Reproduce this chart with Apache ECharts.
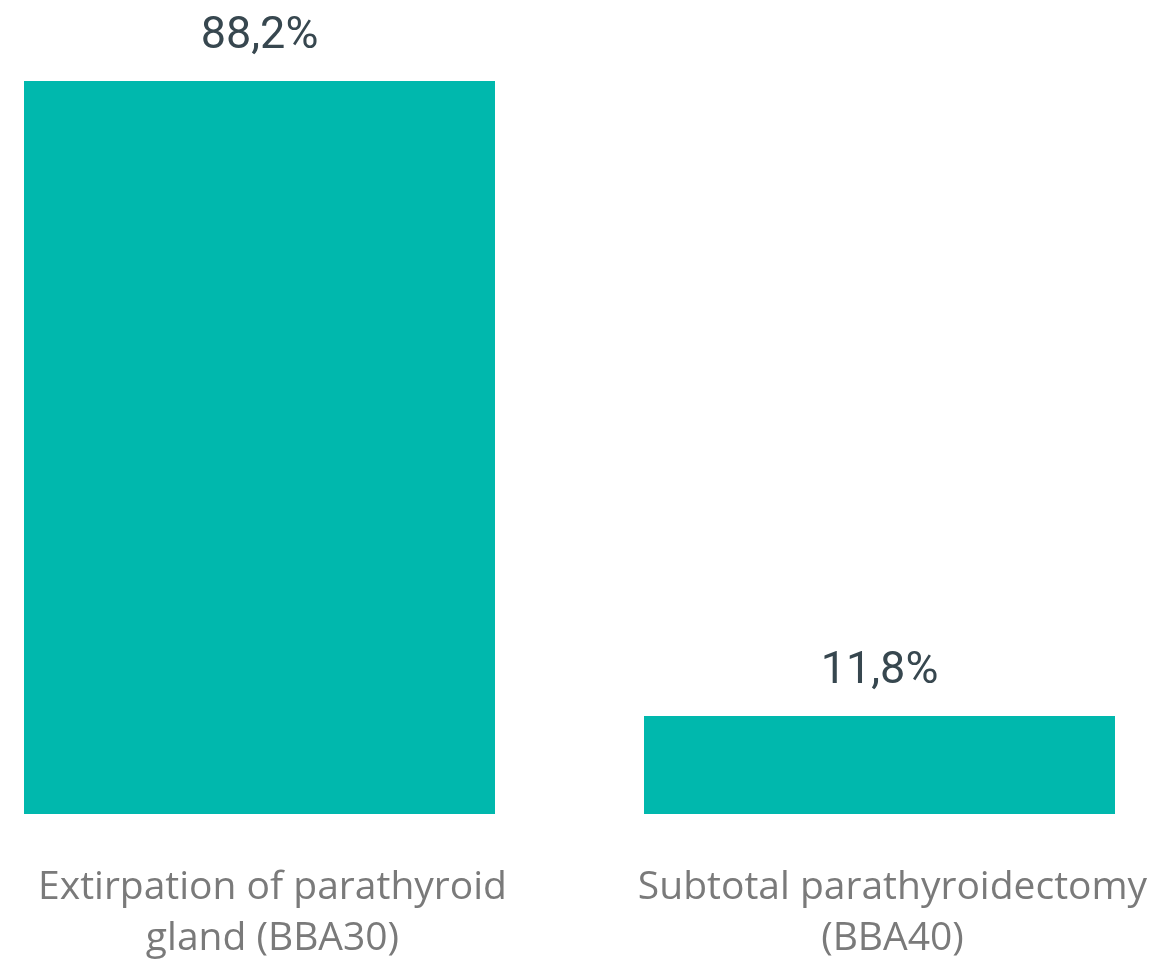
<!DOCTYPE html>
<html>
<head>
<meta charset="utf-8">
<script src="https://cdn.jsdelivr.net/npm/echarts@6/dist/echarts.min.js"></script>
<style>
html,body{margin:0;padding:0;background:#fff;}
#chart{width:1159px;height:971px;}
</style>
</head>
<body>
<div id="chart"></div>
<script>
const categories = ['Extirpation of parathyroid\ngland (BBA30)', 'Subtotal parathyroidectomy\n(BBA40)'];
const values = [88.2, 11.8];

const chart = echarts.init(document.getElementById('chart'), null, {renderer: 'canvas'});
chart.setOption({
  animation: false,
  grid: {left: 259.5, right: 279.5, top: 81, bottom: 157, containLabel: false},
  xAxis: {
    type: 'category',
    data: categories,
    boundaryGap: false,
    axisLine: {show: false},
    axisTick: {show: false},
    splitLine: {show: false},
    axisLabel: {
      interval: 0,
      color: '#7a7a7a',
      fontFamily: 'Open Sans',
      fontSize: 39,
      lineHeight: 51,
      margin: 48,
      padding: [0, 0, 0, 26]
    }
  },
  yAxis: {
    type: 'value',
    min: 0,
    max: 88.2,
    show: false,
    splitLine: {show: false}
  },
  series: [{
    type: 'bar',
    data: values,
    barWidth: 471,
    clip: false,
    itemStyle: {color: '#00b8ad'},
    label: {
      show: true,
      position: 'top',
      distance: 22,
      color: '#37474f',
      fontFamily: 'Roboto',
      fontSize: 45,
      formatter: p => String(p.value).replace('.', ',') + '%'
    }
  }]
});
</script>
</body>
</html>
